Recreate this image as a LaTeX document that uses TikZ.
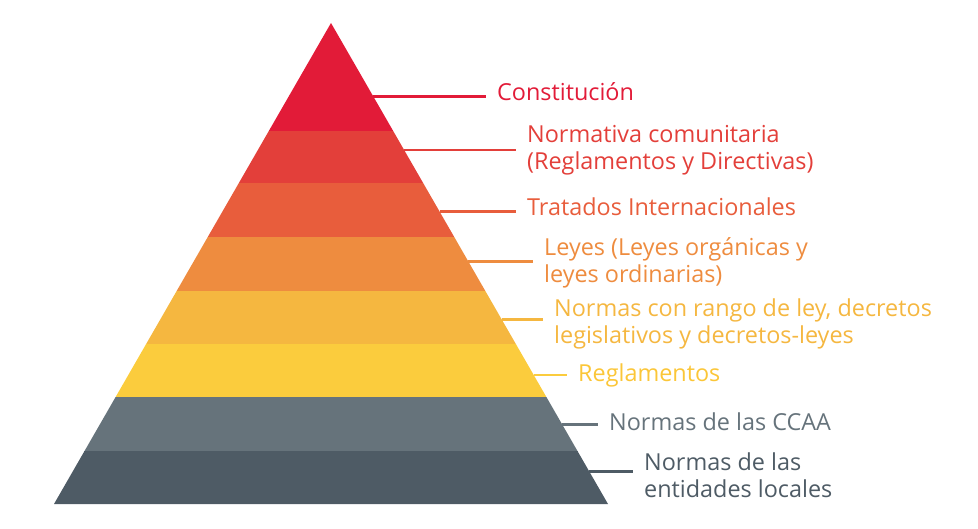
\documentclass[tikz,border=0pt]{standalone}
\usepackage{fontspec}
\setmainfont{Open Sans}
\usepackage{xcolor}
\usepackage{tikz}
\usetikzlibrary{calc}

\definecolor{bandA}{HTML}{E21B38}
\definecolor{bandB}{HTML}{E33F3A}
\definecolor{bandC}{HTML}{E85D3C}
\definecolor{bandD}{HTML}{EE8C3F}
\definecolor{bandE}{HTML}{F5B740}
\definecolor{bandF}{HTML}{FBCC3D}
\definecolor{bandG}{HTML}{66737B}
\definecolor{bandH}{HTML}{4E5B65}

\begin{document}
\begin{tikzpicture}[
    x=1pt, y=-1pt,
    link/.style={line width=2.8pt},
    lawtext/.style={anchor=base west, inner xsep=11pt, inner ysep=0pt, align=left,
        font=\fontsize{23.4}{26.8}\selectfont}
]
\useasboundingbox (0,0) rectangle (978,529);

% Pyramid corners
\coordinate (apex) at (331,23);
\coordinate (bl) at (54,504);
\coordinate (br) at (608,504);

% Bands, clipped to the triangle
\begin{scope}
    \clip (apex) -- (bl) -- (br) -- cycle;
    \fill[bandA] (0,20) rectangle (978,131.5);
    \fill[bandB] (0,131) rectangle (978,183.5);
    \fill[bandC] (0,183) rectangle (978,237.5);
    \fill[bandD] (0,237) rectangle (978,291.5);
    \fill[bandE] (0,291) rectangle (978,344.5);
    \fill[bandF] (0,344) rectangle (978,397.5);
    \fill[bandG] (0,397) rectangle (978,451.5);
    \fill[bandH] (0,451) rectangle (978,505);
\end{scope}

% Points on the right edge
\coordinate (e1) at ($(apex)!0.153!(br)$);
\coordinate (e2) at ($(apex)!0.264!(br)$);
\coordinate (e3) at ($(apex)!0.392!(br)$);
\coordinate (e4) at ($(apex)!0.496!(br)$);
\coordinate (e5) at ($(apex)!0.616!(br)$);
\coordinate (e6) at ($(apex)!0.732!(br)$);
\coordinate (e7) at ($(apex)!0.834!(br)$);
\coordinate (e8) at ($(apex)!0.933!(br)$);

% Labels (base = last line)
\node[lawtext, text=bandA] (constitucion) at (486,101) {Constitución};
\node[lawtext, text=bandB] (comunitaria) at (516,169.3) {Normativa comunitaria\\(Reglamentos y Directivas)};
\node[lawtext, text=bandC] (tratados) at (516,215.7) {Tratados Internacionales};
\node[lawtext, text=bandD] (leyes) at (533,282.3) {Leyes (Leyes orgánicas y\\leyes ordinarias)};
\node[lawtext, text=bandE] (rangoley) at (543,343.3) {Normas con rango de ley, decretos\\legislativos y decretos-leyes};
\node[lawtext, text=bandF!92!orange] (reglamentos) at (567,381.7) {Reglamentos};
\node[lawtext, text=bandG] (ccaa) at (598,430.7) {Normas de las CCAA};
\node[lawtext, text=bandH] (locales) at (633,497.3) {Normas de las\\entidades locales};

% Connectors
\draw[link, bandA] (e1) -- (e1 -| constitucion.west);
\draw[link, bandB] (e2) -- (e2 -| comunitaria.west);
\draw[link, bandC] (e3) -- (e3 -| tratados.west);
\draw[link, bandD] (e4) -- (e4 -| leyes.west);
\draw[link, bandE] (e5) -- (e5 -| rangoley.west);
\draw[link, bandF] (e6) -- (e6 -| reglamentos.west);
\draw[link, bandG] (e7) -- (e7 -| ccaa.west);
\draw[link, bandH] (e8) -- (e8 -| locales.west);
\end{tikzpicture}
\end{document}
